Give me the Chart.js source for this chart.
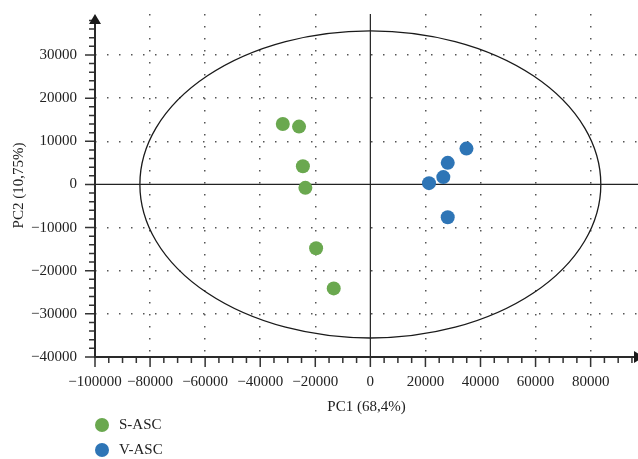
<!DOCTYPE html>
<html>
<head>
<meta charset="utf-8">
<script src="https://cdn.jsdelivr.net/npm/chart.js@4.4.1/dist/chart.umd.min.js"></script>
<style>
  body { margin: 0; background: #fff; }
  .wrap { position: relative; width: 638px; height: 459px; }
  #legend { position: absolute; left: 95px; top: 412px; font: 15px "Liberation Serif", serif; color: #222; }
  #legend div { display: flex; align-items: center; height: 25px; }
  #legend span { display: inline-block; width: 14px; height: 14px; border-radius: 50%; margin-right: 10px; }
</style>
</head>
<body>
<div class="wrap">
  <canvas id="pca" width="638" height="459"></canvas>
  <div id="legend"></div>
</div>
<script>
// groups and scores
const groups = ["S-ASC", "V-ASC"];
const groupColors = ["#6aa84f", "#2e75b6"];
const sPC1 = [-31800, -25900, -24500, -23600, -19700, -13300];
const sPC2 = [14000, 13400, 4200, -800, -14800, -24100];
const vPC1 = [21300, 26500, 28100, 34900, 28100];
const vPC2 = [300, 1700, 5000, 8300, -7600];

const xTicks = [-100000, -80000, -60000, -40000, -20000, 0, 20000, 40000, 60000, 80000];
const yTicks = [-40000, -30000, -20000, -10000, 0, 10000, 20000, 30000];
const xMinorStep = 5000;
const yMinorStep = 2000;
const xRange = [-100000, 97200];
const yRange = [-40000, 39500];
const ellipseRadii = [83700, 35600];

const serif = "'Liberation Serif', 'DejaVu Serif', serif";
const fmt = v => (v < 0 ? "\u2212" + Math.abs(v) : String(v));

// axes with arrows, minor ticks, zero lines and the confidence ellipse
const axesPlugin = {
  id: "pcaAxes",
  beforeDatasetsDraw(chart) {
    const { ctx, chartArea: a, scales: { x, y } } = chart;
    const x0 = x.getPixelForValue(0);
    const y0 = y.getPixelForValue(0);
    ctx.save();

    ctx.strokeStyle = "#1a1a1a";
    ctx.lineWidth = 1.3;
    ctx.beginPath();
    ctx.ellipse(x0, y0,
      x.getPixelForValue(ellipseRadii[0]) - x0,
      y0 - y.getPixelForValue(ellipseRadii[1]), 0, 0, Math.PI * 2);
    ctx.stroke();

    ctx.lineWidth = 1.2;
    ctx.strokeStyle = "#222";
    ctx.beginPath();
    ctx.moveTo(a.left, y0); ctx.lineTo(a.right, y0);
    ctx.moveTo(x0, a.top); ctx.lineTo(x0, a.bottom);
    ctx.stroke();

    ctx.strokeStyle = "#333";
    ctx.lineWidth = 1.5;
    ctx.beginPath();
    for (let v = xRange[0]; v <= xRange[1]; v += xMinorStep) {
      const px = x.getPixelForValue(v);
      const len = xTicks.includes(v) ? 10 : 6;
      ctx.moveTo(px, a.bottom); ctx.lineTo(px, a.bottom + len);
    }
    for (let v = yRange[0]; v <= yRange[1]; v += yMinorStep) {
      const py = y.getPixelForValue(v);
      const len = yTicks.includes(v) ? 10 : 6;
      ctx.moveTo(a.left, py); ctx.lineTo(a.left - len, py);
    }
    ctx.stroke();

    ctx.lineWidth = 2;
    ctx.strokeStyle = "#2a2a2a";
    ctx.beginPath();
    ctx.moveTo(a.left, a.top + 8);
    ctx.lineTo(a.left, a.bottom);
    ctx.lineTo(a.right - 4, a.bottom);
    ctx.stroke();

    ctx.fillStyle = "#1a1a1a";
    ctx.beginPath();
    ctx.moveTo(a.left, a.top);
    ctx.lineTo(a.left - 6, a.top + 10);
    ctx.lineTo(a.left + 6, a.top + 10);
    ctx.closePath();
    ctx.fill();
    ctx.beginPath();
    ctx.moveTo(a.right + 6, a.bottom);
    ctx.lineTo(a.right - 4, a.bottom - 6);
    ctx.lineTo(a.right - 4, a.bottom + 6);
    ctx.closePath();
    ctx.fill();

    ctx.restore();
  }
};

const hideAxisGrid = (c, min) =>
  c.tick && (c.tick.value === 0 || c.tick.value === min) ? "transparent" : "#555";

const chart = new Chart(document.getElementById("pca"), {
  type: "scatter",
  data: {
    datasets: [
      {
        label: groups[0],
        data: sPC1.map((v, i) => ({ x: v, y: sPC2[i] })),
        backgroundColor: groupColors[0],
      },
      {
        label: groups[1],
        data: vPC1.map((v, i) => ({ x: v, y: vPC2[i] })),
        backgroundColor: groupColors[1],
      },
    ],
  },
  options: {
    responsive: false,
    animation: false,
    events: [],
    layout: { autoPadding: false, padding: { top: 14, right: 0, bottom: 32, left: 0 } },
    elements: { point: { radius: 7, borderWidth: 0, hoverRadius: 7 } },
    plugins: { legend: { display: false }, tooltip: { enabled: false } },
    scales: {
      x: {
        type: "linear",
        min: xRange[0],
        max: xRange[1],
        afterBuildTicks: s => { s.ticks = xTicks.map(v => ({ value: v })); },
        afterFit: s => { s.height = 70; s.paddingLeft = 0; s.paddingRight = 0; },
        grid: { drawTicks: false, lineWidth: 1.5, color: c => hideAxisGrid(c, xRange[0]) },
        border: { display: false, dash: [1.5, 10.5] },
        ticks: {
          autoSkip: false, maxRotation: 0, padding: 16,
          color: "#222", font: { family: serif, size: 15 },
          callback: fmt,
        },
        title: {
          display: true, text: "PC1 (68,4%)", color: "#222",
          font: { family: serif, size: 15 }, padding: { bottom: 11 },
        },
      },
      y: {
        type: "linear",
        min: yRange[0],
        max: yRange[1],
        afterBuildTicks: s => { s.ticks = yTicks.map(v => ({ value: v })); },
        afterFit: s => { s.width = 95; s.paddingTop = 0; s.paddingBottom = 0; },
        grid: { drawTicks: false, lineWidth: 1.5, color: c => hideAxisGrid(c, yRange[0]) },
        border: { display: false, dash: [1.5, 10.5] },
        ticks: {
          autoSkip: false, padding: 18,
          color: "#222", font: { family: serif, size: 15 },
          callback: fmt,
        },
        title: {
          display: true, text: "PC2 (10,75%)", color: "#222",
          font: { family: serif, size: 15 }, padding: { top: 10 },
        },
      },
    },
  },
  plugins: [axesPlugin],
});

// legend stacked under the axis title
const legend = document.getElementById("legend");
chart.data.datasets.forEach(ds => {
  const row = document.createElement("div");
  const dot = document.createElement("span");
  dot.style.background = ds.backgroundColor;
  row.appendChild(dot);
  row.appendChild(document.createTextNode(ds.label));
  legend.appendChild(row);
});
</script>
</body>
</html>
